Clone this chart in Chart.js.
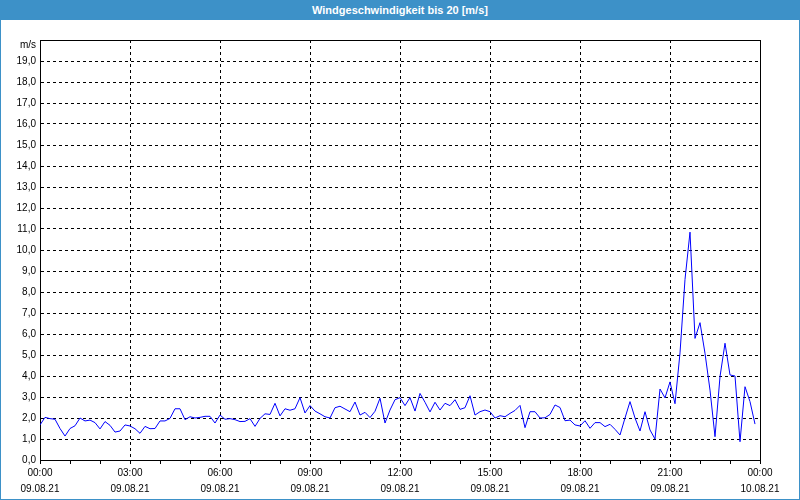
<!DOCTYPE html>
<html>
<head>
<meta charset="utf-8">
<script src="https://cdn.jsdelivr.net/npm/chart.js@4/dist/chart.umd.min.js"></script>
<style>
html,body{margin:0;padding:0;background:#fff;}
#wrap{position:relative;width:800px;height:500px;overflow:hidden;background:#fff;}
#title{position:absolute;left:0;top:0;width:800px;height:20px;background:#3d91c8;color:#fff;font:bold 11px "Liberation Sans",sans-serif;text-align:center;line-height:20px;z-index:2;}
#frame{position:absolute;left:0;top:0;width:800px;height:500px;box-sizing:border-box;border:1px solid #3d91c8;pointer-events:none;z-index:3;}
canvas{position:absolute;left:0;top:0;}
</style>
</head>
<body>
<div id="wrap">
  <canvas id="c" width="800" height="500"></canvas>
  <div id="title">Windgeschwindigkeit bis 20 [m/s]</div>
  <div id="frame"></div>
</div>
<script>
// ---- data (09.08.21, 10-minute samples starting 00:00) ----
const chartTitle = 'Windgeschwindigkeit bis 20 [m/s]';
const sampleStepMinutes = 10;
const windSpeed = [
  1.67, 2.03, 1.97, 1.94, 1.50, 1.14, 1.50, 1.63, 2.00, 1.86, 1.90, 1.78,
  1.48, 1.83, 1.65, 1.33, 1.38, 1.67, 1.62, 1.49, 1.27, 1.60, 1.49, 1.50,
  1.86, 1.86, 1.98, 2.44, 2.44, 1.92, 2.06, 2.00, 2.03, 2.08, 2.08, 1.76,
  2.14, 1.94, 1.97, 1.92, 1.83, 1.84, 1.97, 1.60, 1.98, 2.20, 2.17, 2.70,
  2.10, 2.44, 2.37, 2.44, 2.97, 2.24, 2.59, 2.33, 2.20, 2.06, 2.00, 2.49,
  2.56, 2.43, 2.30, 2.76, 2.14, 2.27, 2.02, 2.32, 2.94, 1.76, 2.38, 2.87,
  2.97, 2.59, 2.97, 2.33, 3.17, 2.75, 2.29, 2.75, 2.38, 2.70, 2.59, 2.87,
  2.41, 2.49, 3.06, 2.14, 2.30, 2.38, 2.30, 2.00, 2.11, 2.06, 2.22, 2.36,
  2.60, 1.54, 2.30, 2.30, 2.00, 2.01, 2.17, 2.62, 2.50, 1.87, 1.90, 1.67,
  1.62, 1.87, 1.51, 1.78, 1.78, 1.59, 1.70, 1.46, 1.19, 2.00, 2.78, 2.00,
  1.38, 2.30, 1.43, 1.00, 3.38, 2.96, 3.72, 2.68, 5.10, 8.60, 10.85, 5.79,
  6.54, 5.08, 3.33, 1.11, 3.97, 5.56, 4.05, 4.00, 0.87, 3.49, 2.78, 1.71
];
const xTickLabels = [
  ['00:00', '09.08.21'], ['03:00', '09.08.21'], ['06:00', '09.08.21'],
  ['09:00', '09.08.21'], ['12:00', '09.08.21'], ['15:00', '09.08.21'],
  ['18:00', '09.08.21'], ['21:00', '09.08.21'], ['00:00', '10.08.21']
];
const yUnit = 'm/s';
const yMin = 0, yMax = 20;
const xMinMinutes = 0, xMaxMinutes = 1440, labelEveryMinutes = 180, tickEveryMinutes = 60;

const points = windSpeed.map((v, i) => ({ x: i * sampleStepMinutes, y: v }));

const FONT = { family: '"Liberation Sans", sans-serif', size: 10 };

const boxPlugin = {
  id: 'box',
  afterDraw(chart) {
    const { ctx, chartArea: a } = chart;
    ctx.save();
    ctx.strokeStyle = '#000';
    ctx.lineWidth = 1;
    ctx.beginPath();
    ctx.moveTo(a.left, a.top + 0.5);
    ctx.lineTo(a.right + 1, a.top + 0.5);
    ctx.moveTo(a.right + 0.5, a.top);
    ctx.lineTo(a.right + 0.5, a.bottom + 1);
    ctx.stroke();
    ctx.restore();
  }
};

new Chart(document.getElementById('c'), {
  type: 'line',
  data: {
    datasets: [{
      label: chartTitle,
      data: points,
      borderColor: '#0000ff',
      borderWidth: 1,
      pointRadius: 0,
      tension: 0,
      fill: false
    }]
  },
  options: {
    responsive: false,
    animation: false,
    layout: { padding: { top: 40, right: 40, left: 0, bottom: 0 } },
    plugins: { legend: { display: false }, tooltip: { enabled: false }, title: { display: false } },
    scales: {
      x: {
        type: 'linear',
        min: xMinMinutes,
        max: xMaxMinutes,
        afterFit: s => { s.height = 40; },
        ticks: {
          stepSize: tickEveryMinutes,
          autoSkip: false,
          maxRotation: 0,
          padding: 1,
          color: '#000',
          font: { ...FONT, lineHeight: 1.6 },
          callback: v => (v % labelEveryMinutes === 0) ? xTickLabels[v / labelEveryMinutes] : ''
        },
        grid: {
          color: ctx => (ctx.tick && ctx.tick.value % labelEveryMinutes === 0 && ctx.tick.value > xMinMinutes && ctx.tick.value < xMaxMinutes) ? '#000' : 'rgba(0,0,0,0)',
          tickColor: '#000',
          tickLength: 4,
          lineWidth: 1
        },
        border: { display: true, color: '#000', dash: [3, 3] }
      },
      y: {
        min: yMin,
        max: yMax,
        afterFit: s => { s.width = 40; },
        ticks: {
          stepSize: 1,
          autoSkip: false,
          padding: 4,
          color: '#000',
          font: { ...FONT, lineHeight: 1.1 },
          callback: v => v === yMax ? ['', yUnit] : v.toFixed(1).replace('.', ',')
        },
        grid: {
          color: ctx => (ctx.tick && ctx.tick.value > yMin && ctx.tick.value < yMax) ? '#000' : 'rgba(0,0,0,0)',
          drawTicks: false,
          lineWidth: 1
        },
        border: { display: true, color: '#000', dash: [3, 3] }
      }
    }
  },
  plugins: [boxPlugin]
});
</script>
</body>
</html>
